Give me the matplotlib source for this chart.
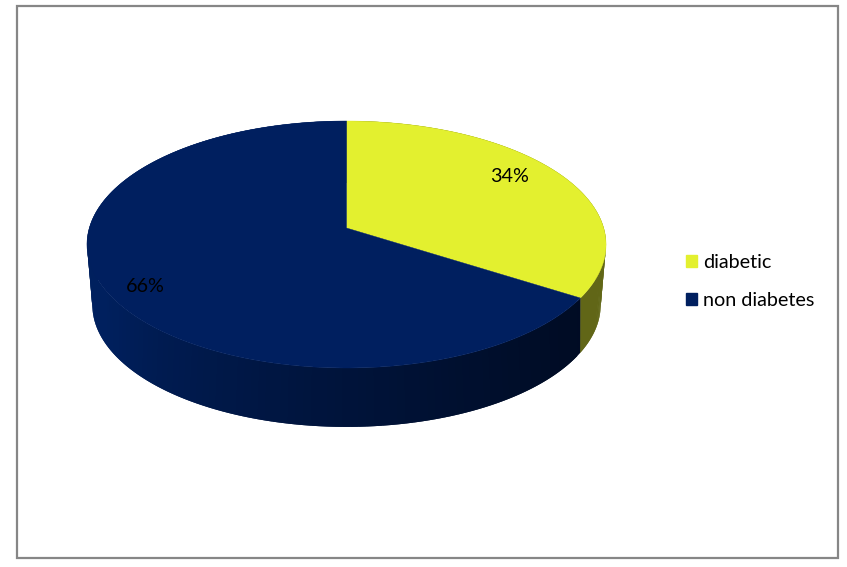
import numpy as np
import matplotlib
matplotlib.use("Agg")
import matplotlib.pyplot as plt
from matplotlib.patches import Polygon, Rectangle, Patch

categories = ["diabetic", "non diabetes"]
values = [34, 66]
labels = ["34%", "66%"]

top_colors = ["#E3F02F", "#001F5F"]
side_start = [(0.40, 0.42, 0.09), (0.0, 0.045, 0.14)]
side_end = [(0.38, 0.40, 0.09), (0.0, 0.125, 0.37)]

plt.rcParams["font.family"] = ["Lato", "DejaVu Sans"]
W, H = 847, 567
fig = plt.figure(figsize=(W / 100, H / 100), dpi=100, facecolor="white")
ax = fig.add_axes([0, 0, 1, 1])
ax.set_xlim(0, W)
ax.set_ylim(H, 0)
ax.axis("off")

ax.add_patch(Rectangle((17, 6), 821, 552, fill=False, ec="#868686", lw=1.6))

CX = 346.5


def project(theta, a, b, y0, k):
    u, v = np.sin(theta), np.cos(theta)
    w = 1 + k * v
    return CX + a * u / w, y0 + b * (-v) / w


top = dict(a=257.2, b=121.3, y0=228.0, k=0.1336)
bottom = dict(a=250.0, b=118.0, y0=283.0, k=0.18)

edges = np.concatenate([[0], np.cumsum(values)]) / np.sum(values) * 2 * np.pi

# rim, split into thin shaded facets; each overlaps the next so no seams show
for i in range(len(values)):
    th = np.linspace(edges[i], edges[i + 1], 160)
    for j in range(len(th) - 1):
        t = j / (len(th) - 2)
        pair = th[j:j + 3]
        xt, yt = project(pair, **top)
        xb, yb = project(pair, **bottom)
        f = min(1.0, (t * 2.0) ** 1.3 if i == 1 else t)
        col = tuple(np.array(side_start[i]) * (1 - f) + np.array(side_end[i]) * f)
        ax.add_patch(Polygon(np.c_[np.r_[xt, xb[::-1]], np.r_[yt, yb[::-1]]],
                             closed=True, fc=col, ec="none", zorder=2))

# top faces
for i in range(len(values)):
    th = np.linspace(edges[i], edges[i + 1], 300)
    x, y = project(th, **top)
    xs = np.r_[CX, x]
    ys = np.r_[top["y0"], y]
    ax.add_patch(Polygon(np.c_[xs, ys], closed=True, fc=top_colors[i],
                         ec=top_colors[i], lw=0.3, zorder=3))

# percentage labels
label_rx = [0.772, 0.837]
label_ry = 0.94
for i in range(len(values)):
    mid = (edges[i] + edges[i + 1]) / 2
    lx, ly = project(np.array(mid), top["a"] * label_rx[i], top["b"] * label_ry,
                     top["y0"], top["k"])
    ax.text(lx, ly, labels[i], ha="center", va="center", fontsize=14.2, color="#000000", zorder=5)

handles = [Patch(fc=c, ec=c, label=n) for c, n in zip(top_colors, categories)]
ax.legend(handles=handles, loc="center left", bbox_to_anchor=(686 / W, 1 - 281.5 / H),
          frameon=False, fontsize=14.2, handlelength=0.55, handleheight=0.55,
          handletextpad=0.3, labelspacing=1.1, borderpad=0, borderaxespad=0)

fig.savefig("out.png", dpi=100, facecolor="white")
